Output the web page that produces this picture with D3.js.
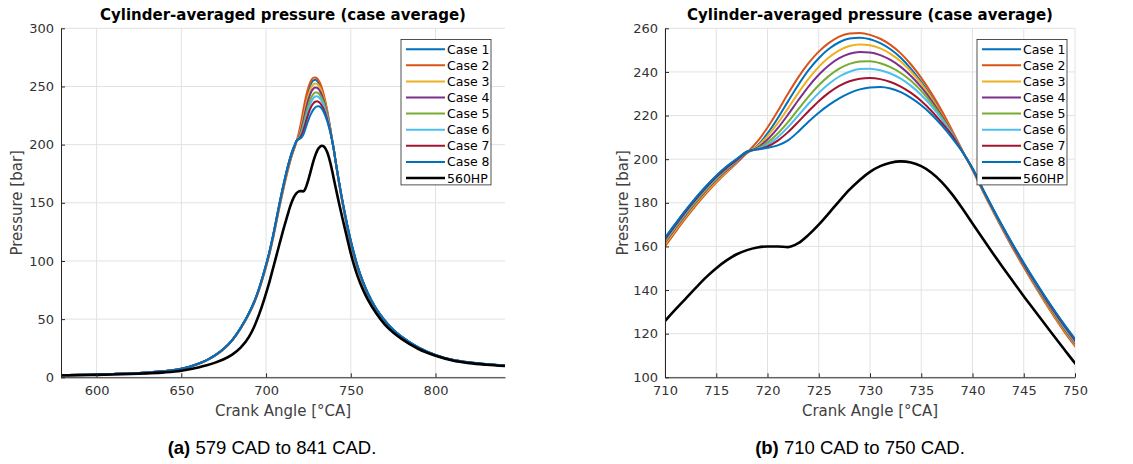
<!DOCTYPE html>
<html>
<head>
<meta charset="utf-8">
<script src="https://cdn.jsdelivr.net/npm/d3@7"></script>
<style>
  body { margin: 0; background: #fff; }
  svg { display: block; }
</style>
</head>
<body>
<svg id="fig" width="1133" height="464"></svg>
<script>
// Crank angle grid [°CA] shared by every series
const crankAngle = [579, 590, 600, 610, 620, 630, 640, 650, 660, 665, 670, 675, 680, 685, 690, 693, 696, 699, 702, 704, 706, 708,
  710, 711, 712, 713, 714, 715, 716, 717, 718, 719, 720, 721, 722, 723, 724, 725, 726, 727, 728, 729, 730,
  731, 732, 733, 734, 735, 736, 737, 738, 739, 740, 741, 742, 743, 744, 745, 746, 747, 748, 749, 750,
  752, 754, 757, 760, 765, 770, 775, 780, 790, 800, 810, 820, 830, 841];

// Cylinder-averaged pressure [bar] per case
const case1 = [2.0, 2.2, 2.5, 2.9, 3.4, 4.2, 5.4, 7.3, 11.6, 14.8, 19.0, 24.5, 32.0, 42.5, 55.5, 65.0, 77.0, 91.5, 108.0, 121.0, 135.4, 150.0,
  163.8, 170.2, 176.4, 182.2, 187.5, 192.3, 196.5, 200.0,
  202.8, 206.2, 211.8, 218.8, 226.5, 234.0, 240.8, 246.3, 250.6, 253.6, 255.3, 255.7, 255.0, 253.2, 250.4, 246.5, 241.4, 235.4, 228.6, 221.0, 212.7, 203.9, 195.6,
  186.2, 177.2, 168.5, 160.2, 152.3, 144.7, 137.4, 130.4, 123.7, 117.4,
  106.0, 95.6, 83.0, 72.6, 59.0, 49.0, 41.0, 35.0, 25.6, 19.2, 15.0, 12.8, 11.3, 10.2];
const case2 = [2.0, 2.2, 2.5, 2.9, 3.4, 4.2, 5.4, 7.2, 11.4, 14.6, 18.7, 24.1, 31.5, 41.8, 54.5, 63.8, 75.5, 89.6, 105.7, 118.4, 132.4, 146.7,
  160.0, 166.5, 172.8, 178.7, 184.2, 189.3, 193.9, 198.2,
  203.0, 208.0, 214.5, 222.0, 230.0, 237.5, 244.0, 249.3, 253.3, 256.2, 257.6, 257.8, 257.0, 255.2, 252.4, 248.5, 243.4, 237.3, 230.2, 222.2, 213.3, 204.0, 195.0,
  185.4, 176.1, 167.2, 158.6, 150.4, 142.5, 134.9, 127.6, 120.6, 114.3,
  103.5, 93.4, 81.2, 71.0, 57.8, 48.0, 40.2, 34.3, 25.1, 18.8, 14.7, 12.5, 11.1, 10.0];
const case3 = [2.0, 2.2, 2.5, 2.9, 3.4, 4.2, 5.4, 7.2, 11.4, 14.6, 18.8, 24.2, 31.6, 42.0, 54.8, 64.1, 75.9, 90.1, 106.3, 119.1, 133.2, 147.6,
  161.0, 167.4, 173.6, 179.5, 184.9, 189.9, 194.4, 198.5,
  202.9, 205.8, 210.6, 216.5, 223.3, 230.3, 236.8, 242.3, 246.7, 249.9, 251.9, 252.6, 252.2, 250.8, 248.3, 244.8, 240.2, 234.6, 228.0, 220.5, 212.3, 203.8, 195.3,
  185.7, 176.5, 167.6, 159.1, 150.9, 143.0, 135.5, 128.3, 121.4, 115.0,
  104.2, 94.0, 81.7, 71.5, 58.2, 48.3, 40.4, 34.5, 25.3, 18.9, 14.8, 12.6, 11.2, 10.1];
const case4 = [2.0, 2.2, 2.5, 2.9, 3.4, 4.2, 5.4, 7.3, 11.5, 14.7, 18.8, 24.3, 31.7, 42.1, 55.0, 64.4, 76.2, 90.6, 106.8, 119.7, 134.0, 148.4,
  161.8, 168.2, 174.4, 180.2, 185.6, 190.5, 194.9, 198.8,
  203.0, 205.2, 209.0, 214.2, 220.4, 227.0, 233.3, 238.7, 243.1, 246.3, 248.3, 249.1, 248.9, 247.7, 245.5, 242.3, 238.1, 233.0, 226.9, 219.9, 212.0, 203.7, 195.4,
  185.9, 176.7, 167.8, 159.3, 151.2, 143.4, 135.9, 128.8, 121.9, 115.5,
  104.6, 94.4, 82.0, 71.8, 58.4, 48.5, 40.6, 34.6, 25.4, 19.0, 14.8, 12.6, 11.2, 10.1];
const case5 = [2.0, 2.2, 2.5, 2.9, 3.4, 4.2, 5.4, 7.3, 11.5, 14.7, 18.9, 24.4, 31.8, 42.2, 55.1, 64.6, 76.5, 90.9, 107.2, 120.1, 134.5, 148.9,
  162.2, 168.6, 174.8, 180.6, 186.0, 190.9, 195.3, 199.1,
  203.2, 204.8, 207.6, 211.8, 217.0, 222.9, 228.7, 233.9, 238.2, 241.5, 243.7, 244.8, 244.9, 244.0, 242.2, 239.5, 235.9, 231.3, 225.7, 219.2, 211.8, 203.7, 195.5,
  186.0, 176.8, 168.0, 159.6, 151.5, 143.8, 136.3, 129.2, 122.4, 116.0,
  105.0, 94.7, 82.3, 72.0, 58.6, 48.6, 40.7, 34.7, 25.5, 19.1, 14.9, 12.7, 11.2, 10.1];
const case6 = [2.0, 2.2, 2.5, 2.9, 3.4, 4.2, 5.4, 7.3, 11.6, 14.8, 18.9, 24.4, 31.9, 42.3, 55.3, 64.8, 76.7, 91.1, 107.5, 120.4, 134.8, 149.3,
  162.7, 169.1, 175.3, 181.1, 186.5, 191.3, 195.6, 199.3,
  203.3, 204.6, 206.7, 210.1, 214.7, 220.0, 225.4, 230.4, 234.6, 237.9, 240.1, 241.3, 241.5, 240.8, 239.3, 236.9, 233.6, 229.4, 224.3, 218.3, 211.5, 203.6, 195.6,
  186.1, 177.0, 168.2, 159.8, 151.8, 144.1, 136.7, 129.6, 122.8, 116.4,
  105.4, 95.0, 82.5, 72.2, 58.7, 48.7, 40.8, 34.8, 25.5, 19.1, 14.9, 12.7, 11.3, 10.2];
const case7 = [2.0, 2.2, 2.5, 2.9, 3.4, 4.2, 5.4, 7.3, 11.6, 14.8, 19.0, 24.5, 32.0, 42.4, 55.4, 64.9, 76.9, 91.3, 107.8, 120.7, 135.1, 149.7,
  163.2, 169.6, 175.8, 181.6, 187.0, 191.8, 196.0, 199.6,
  203.4, 204.5, 205.8, 208.5, 212.4, 217.1, 222.0, 226.6, 230.5, 233.6, 235.7, 236.9, 237.2, 236.7, 235.4, 233.3, 230.4, 226.7, 222.1, 216.7, 210.9, 203.5, 195.7,
  186.2, 177.1, 168.4, 160.0, 152.0, 144.4, 137.0, 130.0, 123.3, 116.9,
  105.7, 95.3, 82.8, 72.4, 58.9, 48.9, 40.9, 34.9, 25.6, 19.2, 15.0, 12.8, 11.3, 10.2];
const case8 = [2.0, 2.2, 2.5, 2.9, 3.4, 4.2, 5.4, 7.3, 11.6, 14.8, 19.0, 24.5, 32.0, 42.5, 55.5, 65.0, 77.0, 91.5, 108.0, 121.0, 135.4, 150.0,
  163.9, 170.3, 176.5, 182.3, 187.6, 192.4, 196.6, 200.1,
  203.5, 204.5, 205.2, 206.3, 208.6, 212.6, 217.2, 221.3, 224.9, 227.9, 230.3, 232.0, 232.9, 233.1, 232.4, 230.7, 228.1, 224.7, 220.5, 215.5, 209.8, 203.4, 195.8,
  186.4, 177.4, 168.7, 160.4, 152.5, 144.9, 137.6, 130.6, 123.9, 117.6,
  106.1, 95.7, 83.1, 72.7, 59.1, 49.1, 41.1, 35.1, 25.7, 19.3, 15.1, 12.9, 11.4, 10.3];
const hp560 = [1.6, 1.8, 2.1, 2.4, 2.8, 3.4, 4.2, 5.6, 8.4, 10.3, 12.6, 15.5, 19.5, 25.5, 35.0, 43.5, 54.5, 67.5, 82.0, 93.0, 104.0, 115.0,
  125.8, 131.0, 136.0, 141.0, 145.8, 150.0, 153.6, 156.4,
  158.3, 159.5, 160.0, 160.0, 159.7, 161.5, 165.3, 170.0, 175.3, 180.8, 186.0, 190.5, 194.2, 196.8, 198.4, 199.0, 198.5, 196.8, 193.8, 189.5, 184.0, 177.5, 170.5,
  163.6, 156.8, 150.1, 143.6, 137.2, 131.0, 124.8, 118.6, 112.5, 106.5,
  96.0, 87.0, 76.0, 67.0, 55.0, 45.5, 38.5, 33.0, 24.3, 18.5, 14.5, 12.2, 10.8, 9.7];

const seriesNames = ["Case 1", "Case 2", "Case 3", "Case 4", "Case 5", "Case 6", "Case 7", "Case 8", "560HP"];
const seriesValues = [case1, case2, case3, case4, case5, case6, case7, case8, hp560];
const seriesColors = ["#0072BD", "#D95319", "#EDB120", "#7E2F8E", "#77AC30", "#4DBEEE", "#A2142F", "#0072BD", "#000000"];

// Axis ticks for each panel
const xTicksA = [600, 650, 700, 750, 800];
const yTicksA = [0, 50, 100, 150, 200, 250, 300];
const xTicksB = [710, 715, 720, 725, 730, 735, 740, 745, 750];
const yTicksB = [100, 120, 140, 160, 180, 200, 220, 240, 260];

const titleText = "Cylinder-averaged pressure (case average)";
const xLabelText = "Crank Angle [°CA]";
const yLabelText = "Pressure [bar]";

const svg = d3.select("#fig");
const FONT = "DejaVu Sans, Verdana, sans-serif";

const series = seriesNames.map((name, i) => ({
  name,
  color: seriesColors[i],
  width: i === 8 ? 2.6 : 2,
  points: crankAngle.map((ca, j) => [ca, seriesValues[i][j]])
}));

function drawPanel(p) {
  const g = svg.append("g");
  const x = d3.scaleLinear().domain(p.xDomain).range([p.left, p.right]);
  const y = d3.scaleLinear().domain(p.yDomain).range([p.bottom, p.top]);

  // grid
  g.append("g").selectAll("line").data(p.xTicks).join("line")
    .attr("x1", d => x(d)).attr("x2", d => x(d))
    .attr("y1", p.top).attr("y2", p.bottom)
    .attr("stroke", "#e2e2e2").attr("stroke-width", 1);
  g.append("g").selectAll("line").data(p.yTicks).join("line")
    .attr("x1", p.left).attr("x2", p.right)
    .attr("y1", d => y(d)).attr("y2", d => y(d))
    .attr("stroke", "#e2e2e2").attr("stroke-width", 1);

  // data lines
  const clipId = "clip-" + p.id;
  svg.append("defs").append("clipPath").attr("id", clipId)
    .append("rect").attr("x", p.left).attr("y", p.top)
    .attr("width", p.right - p.left).attr("height", p.bottom - p.top);
  const line = d3.line().x(d => x(d[0])).y(d => y(d[1])).curve(d3.curveMonotoneX);
  g.append("g").attr("clip-path", `url(#${clipId})`)
    .selectAll("path").data(series).join("path")
    .attr("d", d => line(d.points))
    .attr("fill", "none")
    .attr("stroke", d => d.color)
    .attr("stroke-width", d => d.width)
    .attr("stroke-linejoin", "round");

  // axes
  const xAxis = d3.axisBottom(x).tickValues(p.xTicks).tickSizeInner(-4).tickSizeOuter(0).tickPadding(8);
  const yAxis = d3.axisLeft(y).tickValues(p.yTicks).tickSizeInner(-4).tickSizeOuter(0).tickPadding(7);
  const gx = g.append("g").attr("transform", `translate(0,${p.bottom})`).call(xAxis);
  const gy = g.append("g").attr("transform", `translate(${p.left},0)`).call(yAxis);
  [gx, gy].forEach(a => {
    a.select(".domain").attr("stroke", "#262626").attr("stroke-width", 1);
    a.selectAll(".tick line").attr("stroke", "#262626");
    a.selectAll(".tick text").attr("fill", "#333").style("font-family", FONT).style("font-size", "13px");
  });

  const cx = (p.left + p.right) / 2;
  // title
  g.append("text").attr("x", cx).attr("y", 20).attr("text-anchor", "middle")
    .style("font-family", FONT).style("font-size", "15px").style("font-weight", "bold")
    .attr("fill", "#000").text(titleText);
  // axis labels
  g.append("text").attr("x", cx).attr("y", 416).attr("text-anchor", "middle")
    .style("font-family", FONT).style("font-size", "15px").attr("fill", "#404040").text(xLabelText);
  g.append("text").attr("transform", `translate(${p.yLabelX},${(p.top + p.bottom) / 2}) rotate(-90)`)
    .attr("text-anchor", "middle")
    .style("font-family", FONT).style("font-size", "15px").attr("fill", "#404040").text(yLabelText);

  // legend
  const lg = g.append("g").attr("transform", `translate(${p.legendX},${p.legendY})`);
  const rowH = 16.1;
  lg.append("rect").attr("x", 0).attr("y", 0).attr("width", 90).attr("height", rowH * series.length + 0.5)
    .attr("fill", "#fff").attr("stroke", "#262626").attr("stroke-width", 0.8);
  const rows = lg.selectAll("g.row").data(series).join("g").attr("class", "row")
    .attr("transform", (d, i) => `translate(0,${9.7 + i * rowH})`);
  rows.append("line").attr("x1", 5).attr("x2", 44).attr("y1", 0).attr("y2", 0)
    .attr("stroke", d => d.color).attr("stroke-width", d => d.width);
  rows.append("text").attr("x", 46).attr("y", 4.5)
    .style("font-family", FONT).style("font-size", "12.5px").attr("fill", "#000").text(d => d.name);

  // caption
  const cap = svg.append("text").attr("x", p.captionX).attr("y", 454).attr("text-anchor", "middle")
    .style("font-family", "Liberation Sans, Arial, sans-serif").style("font-size", "18.5px").attr("fill", "#000");
  cap.append("tspan").style("font-weight", "bold").text(p.captionTag);
  cap.append("tspan").text(p.captionText);
}

drawPanel({
  id: "a", left: 61, right: 505, top: 28.3, bottom: 377.3,
  xDomain: [579, 841], yDomain: [0, 300], xTicks: xTicksA, yTicks: yTicksA,
  yLabelX: 22, legendX: 401, legendY: 39.5,
  captionX: 272, captionTag: "(a)", captionText: " 579 CAD to 841 CAD."
});
drawPanel({
  id: "b", left: 665, right: 1075, top: 28.3, bottom: 377.3,
  xDomain: [710, 750], yDomain: [100, 260], xTicks: xTicksB, yTicks: yTicksB,
  yLabelX: 628, legendX: 977, legendY: 39.5,
  captionX: 860, captionTag: "(b)", captionText: " 710 CAD to 750 CAD."
});
</script>
</body>
</html>
